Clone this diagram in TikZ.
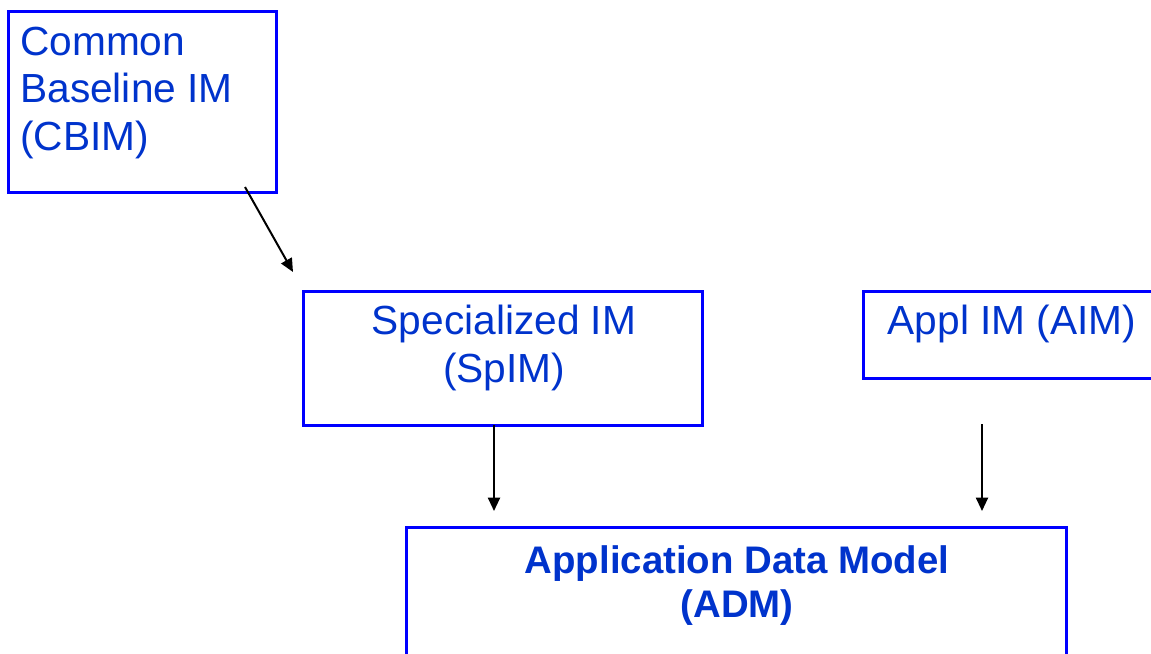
\documentclass[tikz,border=0pt]{standalone}
\usepackage{fontspec}
\setmainfont{Liberation Sans}
\usetikzlibrary{calc,arrows.meta}
\definecolor{boxblue}{RGB}{0,0,255}
\definecolor{txtblue}{RGB}{0,51,204}
\tikzset{
  box/.style={draw=boxblue, line width=2.25pt, rectangle, inner sep=0pt, outer sep=0pt, anchor=north west},
  lbl/.style={text=txtblue, inner sep=0pt, font=\fontsize{30.5}{35.5}\selectfont},
  bold lbl/.style={text=txtblue, inner sep=0pt, font=\fontsize{28.8}{32.5}\selectfont\bfseries},
  arr/.style={draw=black, line width=1.5pt, -{Triangle[length=10pt,width=9pt]}}
}
\begin{document}
\begin{tikzpicture}[x=0.75pt,y=-0.75pt]
\useasboundingbox (0,0) rectangle (1151,653);
% boxes
\node[box, minimum width=201pt, minimum height=135.75pt] (cbim) at (8,11) {};
\node[box, minimum width=299.25pt, minimum height=100.5pt] (spim) at (303,291) {};
\node[box, minimum width=222.75pt, minimum height=65.25pt] (aim) at (863,291) {};
\node[box, minimum width=495pt, minimum height=103.5pt] (adm) at (406,527) {};
% texts (base anchor = baseline of last line)
\node[lbl, anchor=base west, align=left] (cbimt) at (20,150) {Common\\Baseline IM\\(CBIM)};
\node[lbl, anchor=base, align=center] (spimt) at (504,382) {Specialized IM\\(SpIM)};
\node[lbl, anchor=base] (aimt) at (1012,334) {Appl IM (AIM)};
\node[bold lbl, anchor=base, align=center] (admt) at (737,617) {Application Data Model\\(ADM)};
% connectors
\draw[arr] ($(cbim.south east)+(-31,-5)$) -- ($(spim.north west)+(-10,-19)$);
\draw[arr] ($(spim.south west)+(191,0)$) -- ($(adm.north west)+(88,-16)$);
\draw[arr] ($(aim.south west)+(119,46)$) -- ($(adm.north west)+(576,-16)$);
\end{tikzpicture}
\end{document}
